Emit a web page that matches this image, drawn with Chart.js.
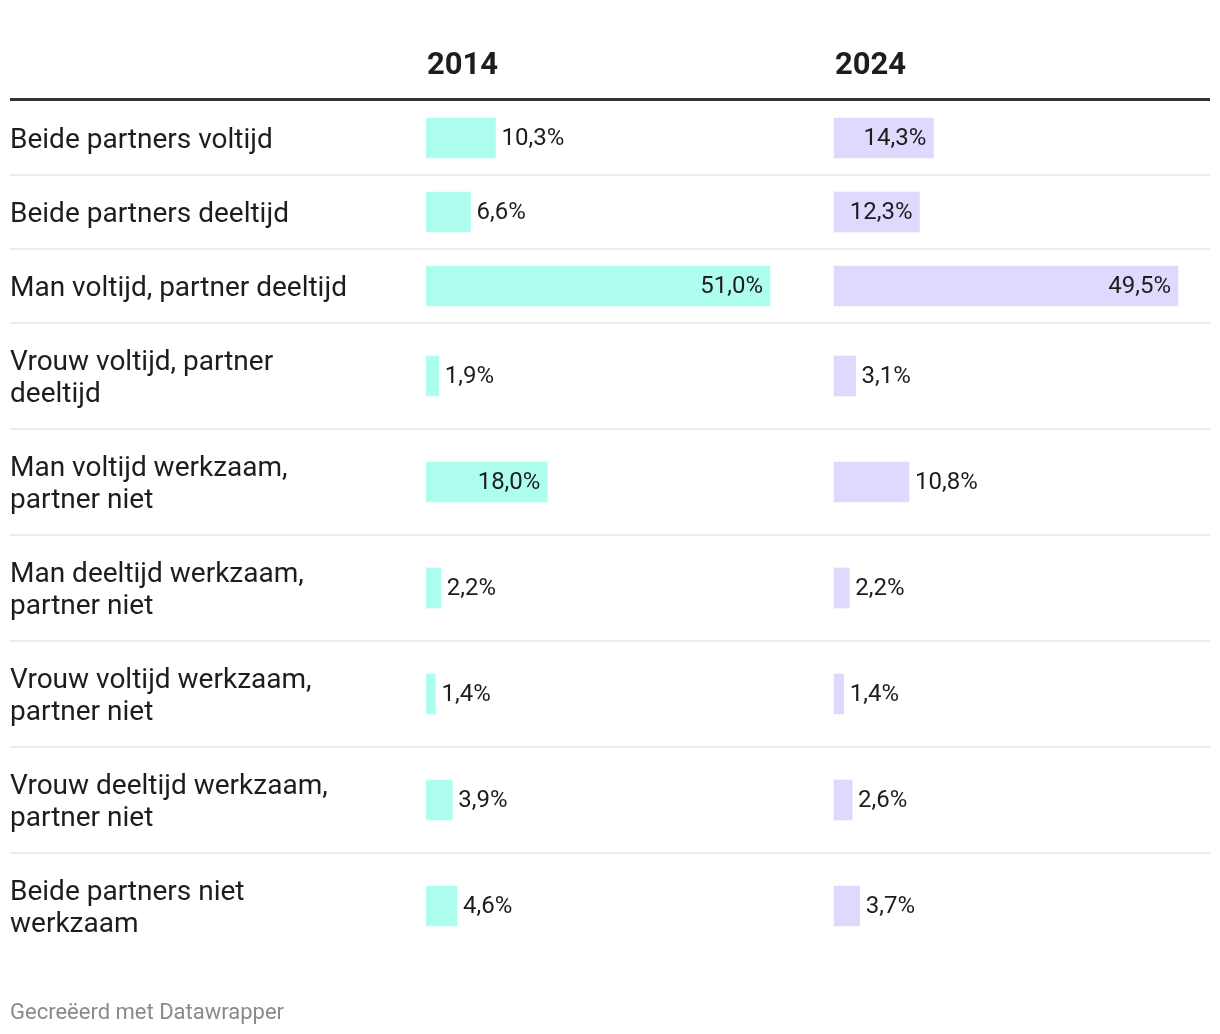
<!DOCTYPE html>
<html>
<head>
<meta charset="utf-8">
<script src="https://cdn.jsdelivr.net/npm/chart.js@4"></script>
<style>
  body { margin: 0; background: #fff; }
</style>
</head>
<body>
<canvas id="grafica" width="1220" height="1034"></canvas>
<script>
    // data
    const categorieen = [
        "Beide partners voltijd",
        "Beide partners deeltijd",
        "Man voltijd, partner deeltijd",
        "Vrouw voltijd, partner deeltijd",
        "Man voltijd werkzaam, partner niet",
        "Man deeltijd werkzaam, partner niet",
        "Vrouw voltijd werkzaam, partner niet",
        "Vrouw deeltijd werkzaam, partner niet",
        "Beide partners niet werkzaam"
    ];
    const jaren = ["2014", "2024"];
    const waarden2014 = [10.3, 6.6, 51.0, 1.9, 18.0, 2.2, 1.4, 3.9, 4.6];
    const waarden2024 = [14.3, 12.3, 49.5, 3.1, 10.8, 2.2, 1.4, 2.6, 3.7];

    const labelSize = 28;
    const valueFont = "24px Roboto";
    const textColor = "#1d1d1d";

    // wrap the row labels like the table does
    let mctx = document.createElement("canvas").getContext("2d");
    mctx.font = labelSize + "px Roboto";
    function wrap(text, maxW) {
        let words = text.split(" ");
        let lines = [];
        let cur = "";
        words.forEach(function (w) {
            let test = cur ? cur + " " + w : w;
            if (mctx.measureText(test).width > maxW && cur) {
                lines.push(cur);
                cur = w;
            } else {
                cur = test;
            }
        });
        lines.push(cur);
        return lines;
    }
    let labels = categorieen.map(function (c) { return wrap(c, 350); });

    // row heights depend on the number of label lines
    let grenzen = [0];
    let midden = [];
    labels.forEach(function (l) {
        let h = 42 + 32 * l.length;
        let start = grenzen[grenzen.length - 1];
        midden.push(start + h / 2);
        grenzen.push(start + h);
    });
    let totaal = grenzen[grenzen.length - 1];

    // two columns sharing one chart area
    const W = 784, barMax = 344, col2Offset = 408;
    let max1 = Math.max.apply(null, waarden2014) * W / barMax;
    let k2 = Math.max.apply(null, waarden2024) / barMax;
    let min2 = -col2Offset * k2;
    let max2 = min2 + W * k2;

    const tabelPlugin = {
        id: "tabel",
        beforeDatasetsDraw: function (chart) {
            let ctx = chart.ctx;
            let y = chart.scales.y;
            ctx.save();
            ctx.strokeStyle = "#ececec";
            ctx.lineWidth = 2;
            for (let i = 1; i < grenzen.length - 1; i++) {
                let py = Math.round(y.getPixelForValue(grenzen[i]));
                ctx.beginPath();
                ctx.moveTo(10, py);
                ctx.lineTo(1210, py);
                ctx.stroke();
            }
            ctx.strokeStyle = "#333333";
            ctx.lineWidth = 3;
            ctx.beginPath();
            ctx.moveTo(10, 99.5);
            ctx.lineTo(1210, 99.5);
            ctx.stroke();

            ctx.fillStyle = "#1d1d1d";
            ctx.font = "bold 31px Roboto";
            ctx.textBaseline = "alphabetic";
            ctx.textAlign = "left";
            ctx.fillText(jaren[0], chart.scales.x.getPixelForValue(0) + 1, 74);
            ctx.fillText(jaren[1], chart.scales.x2.getPixelForValue(0) + 1, 74);

            ctx.fillStyle = "#8a8a8a";
            ctx.font = "22px Roboto";
            ctx.fillText("Gecreëerd met Datawrapper", 10, 1019);
            ctx.restore();
        },
        afterDatasetsDraw: function (chart) {
            let ctx = chart.ctx;
            ctx.save();
            ctx.font = valueFont;
            ctx.fillStyle = textColor;
            ctx.textBaseline = "middle";
            chart.data.datasets.forEach(function (ds, di) {
                chart.getDatasetMeta(di).data.forEach(function (bar, i) {
                    let txt = ds.data[i].x.toFixed(1).replace(".", ",") + "%";
                    let tw = ctx.measureText(txt).width;
                    let bw = bar.x - bar.base;
                    if (bw > tw + 20) {
                        ctx.textAlign = "right";
                        ctx.fillText(txt, bar.x - 7, bar.y + 1);
                    } else {
                        ctx.textAlign = "left";
                        ctx.fillText(txt, bar.x + 6, bar.y + 1);
                    }
                });
            });
            ctx.restore();
        }
    };

    let ctx = document.getElementById("grafica").getContext("2d");
    let grafiek = new Chart(ctx, {
        type: "bar",
        data: {
            datasets: [{
                label: jaren[0],
                data: waarden2014.map(function (v, i) { return { x: v, y: midden[i] }; }),
                backgroundColor: "#aefef0",
                xAxisID: "x",
                grouped: false,
                barThickness: 40
            },
            {
                label: jaren[1],
                data: waarden2024.map(function (v, i) { return { x: v, y: midden[i] }; }),
                backgroundColor: "#dddafe",
                xAxisID: "x2",
                grouped: false,
                barThickness: 40
            }]
        },
        options: {
            indexAxis: "y",
            responsive: false,
            animation: false,
            layout: { padding: { top: 101, bottom: 1034 - 101 - totaal, left: 10, right: 10 } },
            plugins: {
                legend: { display: false },
                tooltip: { enabled: false }
            },
            scales: {
                x: { type: "linear", display: false, min: 0, max: max1 },
                x2: { type: "linear", display: false, min: min2, max: max2 },
                y: {
                    type: "linear",
                    reverse: true,
                    offset: false,
                    min: 0,
                    max: totaal,
                    grid: { display: false, offset: false },
                    border: { display: false },
                    afterBuildTicks: function (scale) {
                        // labels sit a few px below the row middle
                        scale.ticks = midden.map(function (v) { return { value: v + 3 }; });
                    },
                    afterFit: function (scale) {
                        scale.width = 416;
                        scale.paddingTop = 0;
                        scale.paddingBottom = 0;
                    },
                    ticks: {
                        autoSkip: false,
                        crossAlign: "far",
                        color: textColor,
                        font: { family: "Roboto", size: labelSize, lineHeight: 32 / labelSize },
                        callback: function (value, index) {
                            return labels[index];
                        }
                    }
                }
            }
        },
        plugins: [tabelPlugin]
    });
</script>
</body>
</html>
